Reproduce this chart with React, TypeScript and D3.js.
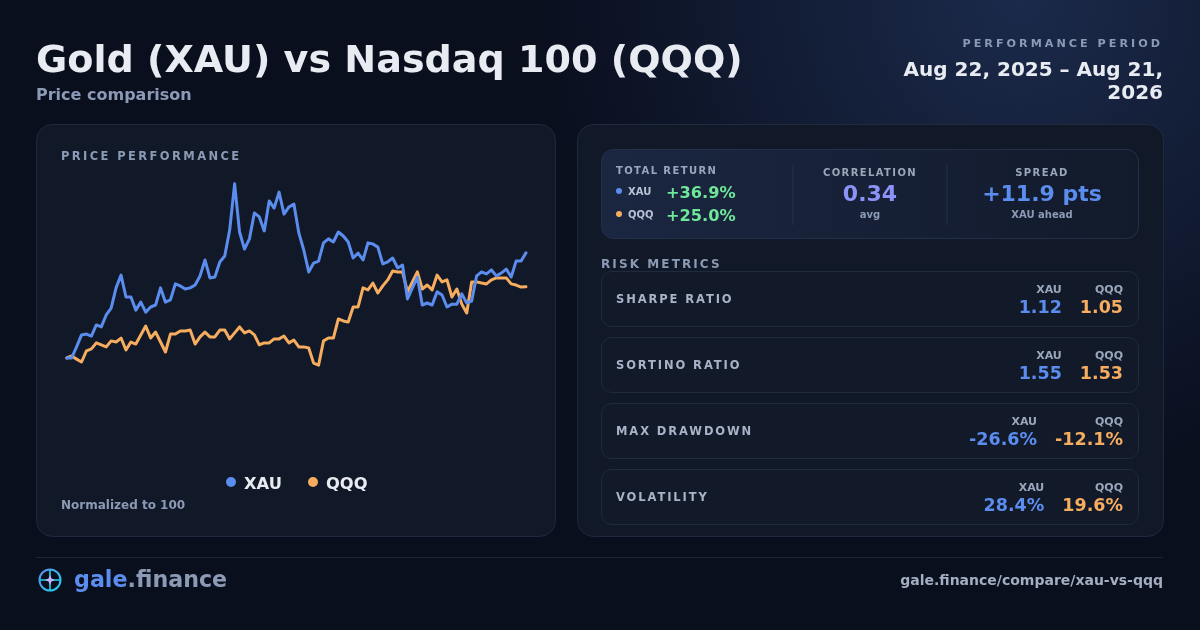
import { useRef, useEffect } from 'react';
import * as d3 from 'd3';

// Normalized to 100 (one point every ~5px)
const xauSeries = [
  100.0, 100.0, 103.9, 108.1, 108.4, 107.7, 111.6, 110.9, 115.1, 117.5,
  124.6, 129.1, 121.4, 121.4, 116.8, 119.6, 116.1, 117.9, 118.6, 124.6,
  119.6, 120.4, 126.0, 125.3, 124.2, 124.6, 125.6, 128.8, 134.4, 128.1,
  128.4, 133.7, 135.8, 144.9, 161.1, 144.2, 138.2, 141.8, 150.9, 149.5,
  144.6, 155.1, 152.6, 158.2, 150.5, 153.0, 154.0, 143.9, 137.9, 130.2,
  133.3, 134.0, 140.4, 141.8, 140.7, 144.2, 142.8, 140.7, 135.1, 136.8,
  134.4, 140.4, 140.0, 138.9, 133.0, 133.7, 135.1, 131.6, 132.6, 120.7,
  124.6, 128.4, 118.6, 119.3, 118.6, 123.2, 122.1, 117.9, 118.9, 118.9,
  122.5, 119.3, 120.0, 128.8, 130.2, 129.5, 130.9, 128.8, 129.8, 131.2,
  128.4, 134.0, 134.0, 136.9,
];

const qqqSeries = [
  100.0, 100.7, 99.6, 98.6, 102.5, 103.2, 105.3, 104.6, 103.9, 106.0,
  105.6, 107.0, 102.8, 105.6, 104.9, 108.1, 111.2, 107.0, 109.1, 105.6,
  102.1, 108.4, 108.4, 109.5, 109.5, 109.8, 104.9, 107.4, 109.1, 107.4,
  107.4, 109.8, 109.8, 106.7, 108.8, 110.9, 108.8, 109.5, 108.1, 104.6,
  105.3, 105.3, 106.7, 106.7, 107.7, 105.3, 106.3, 103.9, 103.9, 103.5,
  98.2, 97.5, 106.0, 107.0, 107.0, 113.7, 113.0, 112.6, 117.9, 117.9,
  124.6, 123.9, 126.3, 122.8, 125.3, 127.4, 130.5, 130.2, 130.2, 123.2,
  126.7, 130.2, 124.2, 125.6, 123.9, 129.1, 126.7, 127.4, 121.4, 124.2,
  118.9, 115.8, 126.7, 126.7, 126.3, 126.0, 127.4, 128.1, 128.1, 128.1,
  126.0, 125.6, 124.9, 125.0,
];

const seriesNames = ['XAU', 'QQQ'];
const totalReturns = ['+36.9%', '+25.0%'];

const metricLabels = ['SHARPE RATIO', 'SORTINO RATIO', 'MAX DRAWDOWN', 'VOLATILITY'];
const xauMetrics = ['1.12', '1.55', '-26.6%', '28.4%'];
const qqqMetrics = ['1.05', '1.53', '-12.1%', '19.6%'];

const BLUE = '#5b8def';
const ORANGE = '#f6ad5f';
const GREEN = '#6ee79a';
const TEXT = '#e8ecf2';
const MUTED = '#8b9ab5';
const FONT = "'DejaVu Sans', sans-serif";

export default function App() {
  const svgRef = useRef<SVGSVGElement>(null);

  useEffect(() => {
    const svg = d3.select(svgRef.current);
    svg.selectAll('*').remove();

    const defs = svg.append('defs');
    const glow = defs.append('radialGradient').attr('id', 'glow')
      .attr('cx', 1020).attr('cy', 0).attr('r', 480).attr('gradientUnits', 'userSpaceOnUse');
    glow.append('stop').attr('offset', '0%').attr('stop-color', '#1b2a4b');
    glow.append('stop').attr('offset', '100%').attr('stop-color', '#0a0f1e');

    const box = defs.append('linearGradient').attr('id', 'box')
      .attr('x1', '0%').attr('y1', '0%').attr('x2', '100%').attr('y2', '0%');
    box.append('stop').attr('offset', '0%').attr('stop-color', '#1b2641');
    box.append('stop').attr('offset', '100%').attr('stop-color', '#121a2b');

    const ring = defs.append('linearGradient').attr('id', 'ring')
      .attr('x1', '0%').attr('y1', '0%').attr('x2', '100%').attr('y2', '100%');
    ring.append('stop').attr('offset', '0%').attr('stop-color', '#5b8def');
    ring.append('stop').attr('offset', '100%').attr('stop-color', '#22d3ee');

    svg.append('rect').attr('width', 1200).attr('height', 630).attr('fill', 'url(#glow)');

    const text = (
      g: d3.Selection<any, unknown, null, undefined>,
      x: number, y: number, s: string, size: number, fill: string,
      anchor = 'start', spacing = 0,
    ) =>
      g.append('text')
        .attr('x', x).attr('y', y)
        .attr('font-family', FONT).attr('font-weight', 700)
        .attr('font-size', size).attr('fill', fill)
        .attr('text-anchor', anchor)
        .attr('letter-spacing', spacing)
        .text(s);

    // Header
    text(svg, 36, 72, 'Gold (XAU) vs Nasdaq 100 (QQQ)', 38.1, TEXT);
    text(svg, 36, 100, 'Price comparison', 16, MUTED);
    text(svg, 1163, 47, 'PERFORMANCE PERIOD', 11.2, MUTED, 'end', 3);
    text(svg, 1163, 76, 'Aug 22, 2025 – Aug 21,', 20, TEXT, 'end');
    text(svg, 1163, 99, '2026', 20, TEXT, 'end');

    // Left panel
    svg.append('rect').attr('x', 36.5).attr('y', 124.5).attr('width', 519).attr('height', 412)
      .attr('rx', 16).attr('fill', '#111827').attr('stroke', '#1f2a3f');
    text(svg, 61, 160, 'PRICE PERFORMANCE', 11.5, MUTED, 'start', 2.4);

    const x = d3.scaleLinear().domain([0, xauSeries.length - 1]).range([66.7, 526]);
    const y = d3.scaleLinear().domain([90, 170]).range([386.5, 158.5]);
    const line = d3.line<number>().x((_d, i) => x(i)).y((d) => y(d));

    [qqqSeries, xauSeries].forEach((s, k) => {
      svg.append('path').datum(s)
        .attr('d', line)
        .attr('fill', 'none')
        .attr('stroke', k === 0 ? ORANGE : BLUE)
        .attr('stroke-width', 3)
        .attr('stroke-linejoin', 'round')
        .attr('stroke-linecap', 'round');
    });

    // Legend
    const legendX = [231, 313];
    seriesNames.forEach((n, i) => {
      svg.append('circle').attr('cx', legendX[i]).attr('cy', 482).attr('r', 5)
        .attr('fill', i === 0 ? BLUE : ORANGE);
      text(svg, legendX[i] + 13, 489, n, 16.3, TEXT);
    });
    text(svg, 61, 509, 'Normalized to 100', 12, MUTED);

    // Right panel
    svg.append('rect').attr('x', 577.5).attr('y', 124.5).attr('width', 586).attr('height', 412)
      .attr('rx', 16).attr('fill', '#111827').attr('stroke', '#1f2a3f');

    svg.append('rect').attr('x', 601.5).attr('y', 149.5).attr('width', 537).attr('height', 89)
      .attr('rx', 12).attr('fill', 'url(#box)').attr('stroke', '#243049');
    text(svg, 616, 174, 'TOTAL RETURN', 10, '#9aa6bb', 'start', 1.4);
    seriesNames.forEach((n, i) => {
      const cy = 191 + i * 23;
      svg.append('circle').attr('cx', 619).attr('cy', cy).attr('r', 3)
        .attr('fill', i === 0 ? BLUE : ORANGE);
      text(svg, 628, cy + 4, n, 10, '#b8c2d3');
      text(svg, 666, cy + 6.5, totalReturns[i], 16.2, GREEN);
    });
    [793, 947].forEach((dx) => {
      svg.append('line').attr('x1', dx).attr('x2', dx).attr('y1', 165).attr('y2', 225)
        .attr('stroke', '#26324a');
    });
    text(svg, 870, 176, 'CORRELATION', 10, '#9aa6bb', 'middle', 1.4);
    text(svg, 870, 201, '0.34', 22, '#8b93f8', 'middle');
    text(svg, 870, 218, 'avg', 10, MUTED, 'middle');
    text(svg, 1042, 176, 'SPREAD', 10, '#9aa6bb', 'middle', 1.4);
    text(svg, 1042, 201, '+11.9 pts', 22, BLUE, 'middle');
    text(svg, 1042, 218, 'XAU ahead', 10, MUTED, 'middle');

    text(svg, 601, 268, 'RISK METRICS', 12, MUTED, 'start', 2.1);

    metricLabels.forEach((label, i) => {
      const top = 271 + i * 66;
      svg.append('rect').attr('x', 601.5).attr('y', top + 0.5).attr('width', 537).attr('height', 55)
        .attr('rx', 10).attr('fill', '#121a2a').attr('stroke', '#1f2a3f');
      text(svg, 616, top + 32, label, 11.5, '#a8b3c7', 'start', 1.9);

      const right = 1123;
      const qv = text(svg, right, top + 42, qqqMetrics[i], 17.5, ORANGE, 'end');
      text(svg, right, top + 22, 'QQQ', 11, '#9aa6bb', 'end');
      const w = (qv.node() as SVGTextElement).getComputedTextLength();
      const xr = right - w - 18;
      text(svg, xr, top + 42, xauMetrics[i], 17.5, BLUE, 'end');
      text(svg, xr, top + 22, 'XAU', 11, '#9aa6bb', 'end');
    });

    // Footer
    svg.append('line').attr('x1', 36).attr('x2', 1163).attr('y1', 557.5).attr('y2', 557.5)
      .attr('stroke', '#1c2638');
    const logo = svg.append('g').attr('transform', 'translate(50,580)');
    logo.append('circle').attr('r', 10.5).attr('fill', 'none')
      .attr('stroke', 'url(#ring)').attr('stroke-width', 2);
    logo.append('path').attr('d', 'M-10,0H10M0,-10V10').attr('stroke', '#22d3ee').attr('stroke-width', 1.6);
    logo.append('path').attr('d', 'M0,-5L1.5,-1.5L5,0L1.5,1.5L0,5L-1.5,1.5L-5,0L-1.5,-1.5Z')
      .attr('fill', '#c4b5fd');
    const brand = text(svg, 74, 587, '', 22.2, BLUE);
    brand.append('tspan').text('gale');
    brand.append('tspan').attr('fill', MUTED).text('.finance');
    text(svg, 1163, 585, 'gale.finance/compare/xau-vs-qqq', 14, '#a3aec2', 'end');
  }, []);

  return (
    <div style={{ position: 'fixed', left: 0, top: 0 }}>
      <svg ref={svgRef} width={1200} height={630} viewBox="0 0 1200 630" style={{ display: 'block' }} />
    </div>
  );
}
